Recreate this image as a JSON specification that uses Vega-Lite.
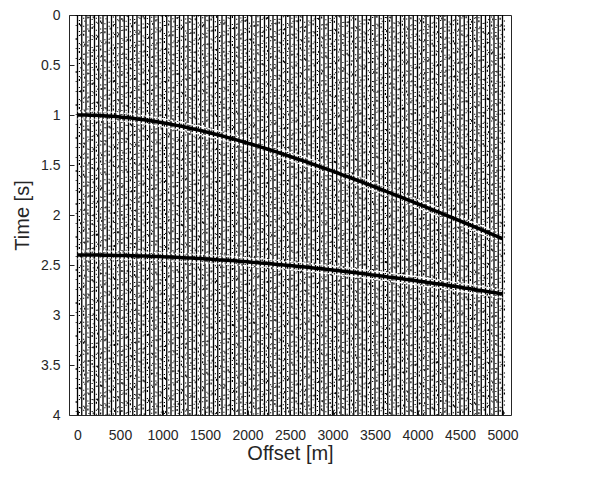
{
  "$schema": "https://vega.github.io/schema/vega-lite/v6.json",
  "autosize": "none",
  "width": 442,
  "height": 400,
  "padding": {"left": 69, "top": 15, "right": 84, "bottom": 62},
  "background": "white",
  "view": {"stroke": "#262626", "strokeWidth": 1},
  "config": {
    "font": "Liberation Sans",
    "axis": {
      "labelColor": "#262626",
      "titleColor": "#262626",
      "domainColor": "#262626",
      "tickColor": "#262626",
      "labelFontSize": 14,
      "titleFontSize": 20,
      "titleFontWeight": "normal",
      "grid": false,
      "tickSize": -5
    }
  },
  "datasets": {
    "traces": [
      {"offset": 0, "t1": 1.000, "t2": 2.400},
      {"offset": 50, "t1": 1.000, "t2": 2.400},
      {"offset": 100, "t1": 1.001, "t2": 2.400},
      {"offset": 150, "t1": 1.002, "t2": 2.400},
      {"offset": 200, "t1": 1.003, "t2": 2.401},
      {"offset": 250, "t1": 1.005, "t2": 2.401},
      {"offset": 300, "t1": 1.007, "t2": 2.402},
      {"offset": 350, "t1": 1.010, "t2": 2.402},
      {"offset": 400, "t1": 1.013, "t2": 2.403},
      {"offset": 450, "t1": 1.016, "t2": 2.404},
      {"offset": 500, "t1": 1.020, "t2": 2.404},
      {"offset": 550, "t1": 1.024, "t2": 2.405},
      {"offset": 600, "t1": 1.028, "t2": 2.406},
      {"offset": 650, "t1": 1.033, "t2": 2.407},
      {"offset": 700, "t1": 1.039, "t2": 2.409},
      {"offset": 750, "t1": 1.044, "t2": 2.410},
      {"offset": 800, "t1": 1.050, "t2": 2.411},
      {"offset": 850, "t1": 1.056, "t2": 2.413},
      {"offset": 900, "t1": 1.063, "t2": 2.414},
      {"offset": 950, "t1": 1.070, "t2": 2.416},
      {"offset": 1000, "t1": 1.077, "t2": 2.417},
      {"offset": 1050, "t1": 1.085, "t2": 2.419},
      {"offset": 1100, "t1": 1.093, "t2": 2.421},
      {"offset": 1150, "t1": 1.101, "t2": 2.423},
      {"offset": 1200, "t1": 1.109, "t2": 2.425},
      {"offset": 1250, "t1": 1.118, "t2": 2.427},
      {"offset": 1300, "t1": 1.127, "t2": 2.429},
      {"offset": 1350, "t1": 1.137, "t2": 2.431},
      {"offset": 1400, "t1": 1.146, "t2": 2.434},
      {"offset": 1450, "t1": 1.156, "t2": 2.436},
      {"offset": 1500, "t1": 1.166, "t2": 2.439},
      {"offset": 1550, "t1": 1.177, "t2": 2.441},
      {"offset": 1600, "t1": 1.187, "t2": 2.444},
      {"offset": 1650, "t1": 1.198, "t2": 2.447},
      {"offset": 1700, "t1": 1.209, "t2": 2.449},
      {"offset": 1750, "t1": 1.221, "t2": 2.452},
      {"offset": 1800, "t1": 1.232, "t2": 2.455},
      {"offset": 1850, "t1": 1.244, "t2": 2.458},
      {"offset": 1900, "t1": 1.256, "t2": 2.462},
      {"offset": 1950, "t1": 1.268, "t2": 2.465},
      {"offset": 2000, "t1": 1.281, "t2": 2.468},
      {"offset": 2050, "t1": 1.293, "t2": 2.472},
      {"offset": 2100, "t1": 1.306, "t2": 2.475},
      {"offset": 2150, "t1": 1.319, "t2": 2.479},
      {"offset": 2200, "t1": 1.332, "t2": 2.482},
      {"offset": 2250, "t1": 1.345, "t2": 2.486},
      {"offset": 2300, "t1": 1.359, "t2": 2.490},
      {"offset": 2350, "t1": 1.372, "t2": 2.494},
      {"offset": 2400, "t1": 1.386, "t2": 2.498},
      {"offset": 2450, "t1": 1.400, "t2": 2.502},
      {"offset": 2500, "t1": 1.414, "t2": 2.506},
      {"offset": 2550, "t1": 1.428, "t2": 2.510},
      {"offset": 2600, "t1": 1.443, "t2": 2.514},
      {"offset": 2650, "t1": 1.457, "t2": 2.518},
      {"offset": 2700, "t1": 1.472, "t2": 2.523},
      {"offset": 2750, "t1": 1.487, "t2": 2.527},
      {"offset": 2800, "t1": 1.502, "t2": 2.532},
      {"offset": 2850, "t1": 1.517, "t2": 2.536},
      {"offset": 2900, "t1": 1.532, "t2": 2.541},
      {"offset": 2950, "t1": 1.547, "t2": 2.546},
      {"offset": 3000, "t1": 1.562, "t2": 2.550},
      {"offset": 3050, "t1": 1.577, "t2": 2.555},
      {"offset": 3100, "t1": 1.593, "t2": 2.560},
      {"offset": 3150, "t1": 1.609, "t2": 2.565},
      {"offset": 3200, "t1": 1.624, "t2": 2.570},
      {"offset": 3250, "t1": 1.640, "t2": 2.575},
      {"offset": 3300, "t1": 1.656, "t2": 2.581},
      {"offset": 3350, "t1": 1.672, "t2": 2.586},
      {"offset": 3400, "t1": 1.688, "t2": 2.591},
      {"offset": 3450, "t1": 1.704, "t2": 2.597},
      {"offset": 3500, "t1": 1.720, "t2": 2.602},
      {"offset": 3550, "t1": 1.737, "t2": 2.607},
      {"offset": 3600, "t1": 1.753, "t2": 2.613},
      {"offset": 3650, "t1": 1.770, "t2": 2.619},
      {"offset": 3700, "t1": 1.786, "t2": 2.624},
      {"offset": 3750, "t1": 1.803, "t2": 2.630},
      {"offset": 3800, "t1": 1.819, "t2": 2.636},
      {"offset": 3850, "t1": 1.836, "t2": 2.642},
      {"offset": 3900, "t1": 1.853, "t2": 2.647},
      {"offset": 3950, "t1": 1.870, "t2": 2.653},
      {"offset": 4000, "t1": 1.887, "t2": 2.659},
      {"offset": 4050, "t1": 1.904, "t2": 2.665},
      {"offset": 4100, "t1": 1.921, "t2": 2.672},
      {"offset": 4150, "t1": 1.938, "t2": 2.678},
      {"offset": 4200, "t1": 1.955, "t2": 2.684},
      {"offset": 4250, "t1": 1.972, "t2": 2.690},
      {"offset": 4300, "t1": 1.990, "t2": 2.696},
      {"offset": 4350, "t1": 2.007, "t2": 2.703},
      {"offset": 4400, "t1": 2.024, "t2": 2.709},
      {"offset": 4450, "t1": 2.042, "t2": 2.716},
      {"offset": 4500, "t1": 2.059, "t2": 2.722},
      {"offset": 4550, "t1": 2.077, "t2": 2.729},
      {"offset": 4600, "t1": 2.094, "t2": 2.735},
      {"offset": 4650, "t1": 2.112, "t2": 2.742},
      {"offset": 4700, "t1": 2.129, "t2": 2.749},
      {"offset": 4750, "t1": 2.147, "t2": 2.755},
      {"offset": 4800, "t1": 2.165, "t2": 2.762},
      {"offset": 4850, "t1": 2.183, "t2": 2.769},
      {"offset": 4900, "t1": 2.200, "t2": 2.776},
      {"offset": 4950, "t1": 2.218, "t2": 2.783},
      {"offset": 5000, "t1": 2.236, "t2": 2.789}
    ]
  },
  "data": {"name": "traces"},
  "encoding": {
    "x": {
      "field": "offset",
      "type": "quantitative",
      "title": "Offset [m]",
      "scale": {"domain": [-100, 5100], "nice": false, "zero": false},
      "axis": {
        "values": [0, 500, 1000, 1500, 2000, 2500, 3000, 3500, 4000, 4500, 5000],
        "format": "d",
        "domain": false,
        "labelPadding": 18,
        "titlePadding": 1
      }
    }
  },
  "layer": [
    {
      "mark": {"type": "rule", "color": "#000000", "strokeWidth": 1.3}
    },
    {
      "mark": {
        "type": "rule", "color": "#000000", "strokeWidth": 1.2, "xOffset": 1.9,
        "strokeDash": [1, 4, 1, 2, 2, 6, 1, 3, 1, 7],
        "strokeDashOffset": {"expr": "(datum.offset / 50 * 0.618034) % 1 * 28"}
      }
    },
    {
      "mark": {
        "type": "rule", "color": "#000000", "strokeWidth": 1.0, "xOffset": -1.3,
        "strokeDash": [1, 9, 1, 12, 2, 8],
        "strokeDashOffset": {"expr": "(datum.offset / 50 * 0.414214) % 1 * 33"}
      }
    },
    {
      "mark": {"type": "line", "color": "#ffffff", "strokeWidth": 1.4, "yOffset": -4, "strokeDash": [2.5, 1.75]},
      "encoding": {"y": {"field": "t1", "type": "quantitative"}}
    },
    {
      "mark": {"type": "line", "color": "#ffffff", "strokeWidth": 1.4, "yOffset": 4, "strokeDash": [2.5, 1.75]},
      "encoding": {"y": {"field": "t1", "type": "quantitative"}}
    },
    {
      "mark": {"type": "line", "color": "#000000", "strokeWidth": 3.5},
      "encoding": {"y": {"field": "t1", "type": "quantitative"}}
    },
    {
      "mark": {"type": "line", "color": "#ffffff", "strokeWidth": 1.4, "yOffset": -4, "strokeDash": [2.5, 1.75]},
      "encoding": {"y": {"field": "t2", "type": "quantitative"}}
    },
    {
      "mark": {"type": "line", "color": "#ffffff", "strokeWidth": 1.4, "yOffset": 4, "strokeDash": [2.5, 1.75]},
      "encoding": {"y": {"field": "t2", "type": "quantitative"}}
    },
    {
      "mark": {"type": "line", "color": "#000000", "strokeWidth": 3.5},
      "encoding": {
        "y": {
          "field": "t2",
          "type": "quantitative",
          "title": "Time [s]",
          "scale": {"domain": [0, 4], "reverse": true, "nice": false, "zero": false},
          "axis": {
            "values": [0, 0.5, 1, 1.5, 2, 2.5, 3, 3.5, 4],
            "format": "~g",
            "domain": false,
            "labelPadding": 14,
            "titlePadding": 8
          }
        }
      }
    }
  ],
  "resolve": {"scale": {"y": "shared"}}
}
